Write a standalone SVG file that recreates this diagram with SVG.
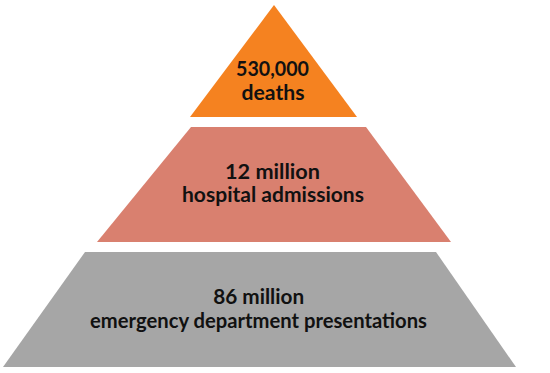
<svg xmlns="http://www.w3.org/2000/svg" width="550" height="373" viewBox="0 0 550 373">
<style>
text{font-family:Lato,"Open Sans","Liberation Sans",sans-serif;font-weight:bold;font-size:20px;fill:#111;text-anchor:middle}
</style>
<rect width="550" height="373" fill="#fff"/>
<g id="top">
<polygon points="274,5 357,117 190,117" fill="#F58220"/>
<text x="272.5" y="76" textLength="73" lengthAdjust="spacingAndGlyphs">530,000</text>
<text x="273" y="100" textLength="63" lengthAdjust="spacingAndGlyphs">deaths</text>
</g>
<g id="middle">
<polygon points="191,127 366,127 451,242 97,242" fill="#D9806F"/>
<text x="272.5" y="178.5" textLength="95" lengthAdjust="spacingAndGlyphs">12 million</text>
<text x="273" y="201.8" textLength="182" lengthAdjust="spacingAndGlyphs">hospital admissions</text>
</g>
<g id="bottom">
<polygon points="85,252 436,252 516,367 3,367" fill="#A6A6A6"/>
<text x="258.7" y="304" textLength="91" lengthAdjust="spacingAndGlyphs">86 million</text>
<text x="258.5" y="327.5" textLength="337" lengthAdjust="spacingAndGlyphs">emergency department presentations</text>
</g>
<g id="connectors"/>
</svg>
